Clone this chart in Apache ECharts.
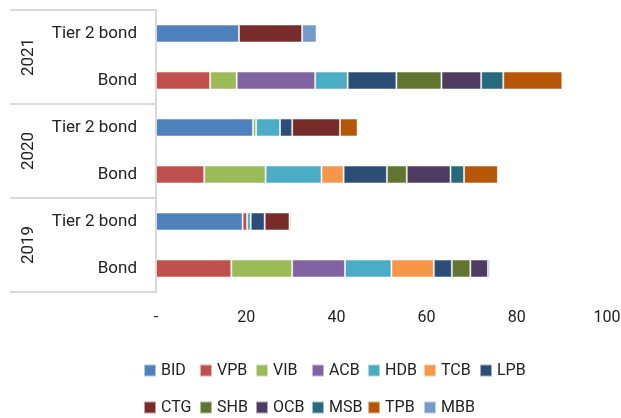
<!DOCTYPE html>
<html>
<head>
<meta charset="utf-8">
<script src="https://cdn.jsdelivr.net/npm/echarts@6/dist/echarts.min.js"></script>
<style>
  html, body { margin: 0; padding: 0; background: #fff; }
  #chart { width: 621px; height: 418px; }
</style>
</head>
<body>
<div id="chart"></div>
<script>
/* data, rows top to bottom */
const years = ['2021', '2020', '2019'];
const rows = ['2021|Tier 2 bond', '2021|Bond', '2020|Tier 2 bond', '2020|Bond', '2019|Tier 2 bond', '2019|Bond'];
const xTicks = [0, 20, 40, 60, 80, 100];

const banks = ['BID', 'VPB', 'VIB', 'ACB', 'HDB', 'TCB', 'LPB', 'CTG', 'SHB', 'OCB', 'MSB', 'TPB', 'MBB'];
const colors = ['#4F81BD', '#C0504D', '#9BBB59', '#8064A2', '#4BACC6', '#F79646', '#2C4D75',
                '#772C2A', '#5F7530', '#4D3B62', '#276A7C', '#B65708', '#729ACA'];

const BID = [18.4, 0, 21.5, 0, 19.2, 0];
const VPB = [0, 12.0, 0, 10.7, 1.0, 16.7];
const VIB = [0, 5.9, 0.7, 13.6, 0, 13.5];
const ACB = [0, 17.4, 0, 0, 0, 11.7];
const HDB = [0, 7.2, 5.3, 12.4, 0.8, 10.3];
const TCB = [0, 0, 0, 4.9, 0, 9.4];
const LPB = [0, 10.8, 2.7, 9.6, 3.1, 4.0];
const CTG = [14.0, 0, 10.6, 0, 5.5, 0];
const SHB = [0, 10.0, 0, 4.4, 0, 4.1];
const OCB = [0, 8.8, 0, 9.7, 0, 3.9];
const MSB = [0, 4.9, 0, 3.0, 0, 0.4];
const TPB = [0, 13.1, 3.9, 7.5, 0.3, 0];
const MBB = [3.2, 0, 0, 0, 0, 0.2];

const values = [BID, VPB, VIB, ACB, HDB, TCB, LPB, CTG, SHB, OCB, MSB, TPB, MBB];

const font = 'Roboto, sans-serif';
const gray = '#d9d9d9';

const chart = echarts.init(document.getElementById('chart'), null, { renderer: 'canvas' });

chart.setOption({
    animation: false,
    textStyle: { fontFamily: font },
    grid: { left: 156, right: 14, top: 10, bottom: 126, outerBoundsMode: 'none', containLabel: false },
    xAxis: {
        type: 'value',
        min: xTicks[0],
        max: xTicks[xTicks.length - 1],
        interval: 20,
        axisLine: { show: false },
        axisTick: { show: false },
        splitLine: { show: false },
        axisLabel: {
            margin: 18,
            color: '#222',
            fontSize: 16,
            fontFamily: font,
            formatter: v => v === 0 ? '-' : String(v),
        },
    },
    yAxis: [
        {
            type: 'category',
            data: rows,
            inverse: true,
            position: 'left',
            axisLine: { show: false },
            axisTick: { show: false },
            axisLabel: {
                margin: 19,
                color: '#222',
                fontSize: 17,
                fontFamily: font,
                formatter: v => v.split('|')[1],
            },
        },
        {
            type: 'category',
            data: years,
            inverse: true,
            position: 'left',
            axisLine: { show: true, lineStyle: { color: gray, width: 2 } },
            axisTick: { show: true, length: 146, lineStyle: { color: gray, width: 2 } },
            axisLabel: {
                rotate: 90,
                margin: 119,
                color: '#222',
                fontSize: 17,
                fontFamily: font,
            },
        },
    ],
    legend: {
        data: banks,
        left: 138,
        top: 349,
        width: 420,
        itemWidth: 12,
        itemHeight: 12,
        itemGap: 4,
        icon: 'rect',
        textStyle: { fontSize: 16, color: '#222', width: 34, lineHeight: 33, fontFamily: font },
    },
    series: banks.map((name, i) => ({
        name: name,
        type: 'bar',
        stack: 'total',
        yAxisIndex: 0,
        barWidth: 18,
        itemStyle: { color: colors[i], borderColor: 'rgba(255,255,255,0.55)', borderWidth: 1 },
        data: values[i].map(v => v || null),
    })),
});
</script>
</body>
</html>
